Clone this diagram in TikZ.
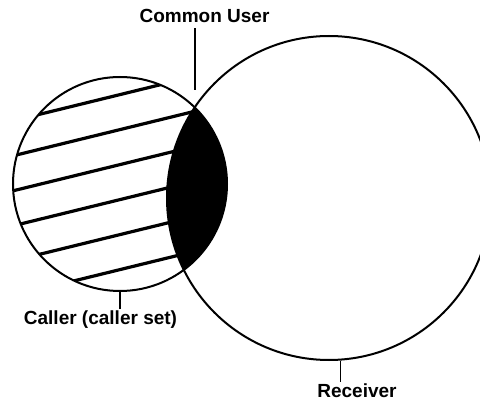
\documentclass[tikz,border=0pt]{standalone}
\usepackage{fontspec}
\setmainfont{Liberation Sans}
\begin{document}
\begin{tikzpicture}[x=1pt,y=-1pt,
  setcircle/.style={circle,draw=black,line width=2pt,inner sep=0pt},
  hatchline/.style={line width=3.2pt},
  leader/.style={line width=1.2pt},
  lbl/.style={font=\fontsize{19}{22}\selectfont\bfseries,inner sep=1pt,anchor=base}]
\useasboundingbox (0,0) rectangle (480,401);
\clip (0,0) rectangle (480,401);
% hatching inside the caller set
\begin{scope}
  \clip (120,184) circle (107pt);
  \foreach \b in {124,159,194,229,264,299}
    \draw[hatchline] (0,\b) -- (250,{\b-0.245*250});
\end{scope}
% lens (common users)
\begin{scope}
  \clip (120,184) circle (107pt);
  \fill[black] (329,198) circle (162pt);
\end{scope}
\node[setcircle,minimum size=214pt] (caller) at (120,184) {};
\node[setcircle,minimum size=324pt] (receiver) at (329,198) {};
% labels
\node[lbl] (cu) at (204.5,23) {Common User};
\node[lbl] (cl) at (100.5,324) {Caller (caller set)};
\node[lbl] (rl) at (357,397) {Receiver};
\coordinate (cuend) at (195,90);
\draw[leader] (cuend |- cu.south) ++(0,4) -- (cuend);
\draw[leader] (caller.south) -- (caller.south |- cl.north);
\draw[leader] (receiver.-86) -- (receiver.-86 |- rl.north);
\end{tikzpicture}
\end{document}
